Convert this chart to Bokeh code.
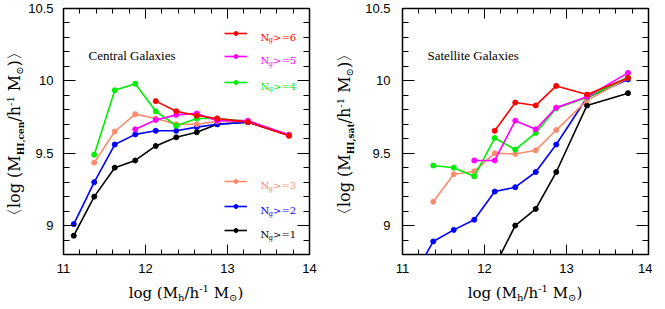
import numpy as np
from bokeh.plotting import figure
from bokeh.models import (FixedTicker, LinearAxis, NumeralTickFormatter, Label,
                          Legend, LegendItem, Range1d, Div)
from bokeh.layouts import row, column
from bokeh.core.properties import value
from bokeh.embed import file_html
from bokeh.resources import INLINE

nan = float("nan")

# ---------------- data ----------------
log_mh = [11.125, 11.375, 11.625, 11.875, 12.125, 12.375, 12.625, 12.875, 13.25, 13.75]

cen_ng1 = [8.93, 9.20, 9.40, 9.45, 9.55, 9.61, 9.645, 9.70, 9.715, 9.625]
cen_ng2 = [9.01, 9.30, 9.56, 9.63, 9.655, 9.655, 9.68, 9.70, 9.715, 9.625]
cen_ng3 = [nan, 9.435, 9.65, 9.77, 9.74, 9.70, 9.70, 9.72, 9.72, 9.63]
cen_ng4 = [nan, 9.49, 9.935, 9.98, 9.79, 9.69, 9.74, 9.74, 9.72, 9.625]
cen_ng5 = [nan, nan, nan, 9.665, 9.73, 9.765, 9.775, 9.725, 9.725, 9.625]
cen_ng6 = [nan, nan, nan, nan, 9.86, 9.79, 9.76, 9.74, 9.715, 9.62]

sat_ng1 = [nan, nan, nan, nan, 8.72, 9.00, 9.115, 9.37, 9.83, 9.915]
sat_ng2 = [8.64, 8.89, 8.97, 9.04, 9.235, 9.265, 9.37, 9.56, 9.885, 10.01]
sat_ng3 = [nan, 9.165, 9.355, 9.375, 9.50, 9.495, 9.52, 9.66, 9.865, 10.02]
sat_ng4 = [nan, 9.415, 9.40, 9.34, 9.605, 9.525, 9.64, 9.81, 9.885, 10.025]
sat_ng5 = [nan, nan, nan, 9.45, 9.45, 9.725, 9.665, 9.815, 9.89, 10.055]
sat_ng6 = [nan, nan, nan, nan, 9.655, 9.85, 9.83, 9.965, 9.905, 10.02]

group_names = [">=1", ">=2", ">=3", ">=4", ">=5", ">=6"]
series_colors = ["#000000", "#0000ff", "#fa8c6e", "#00ee00", "#ff00ff", "#ff0000"]

x_major = [11, 12, 13, 14]
x_minor = [11.2, 11.4, 11.6, 11.8, 12.2, 12.4, 12.6, 12.8, 13.2, 13.4, 13.6, 13.8]
y_major = [9.0, 9.5, 10.0, 10.5]
y_minor = [8.8, 8.9, 9.1, 9.2, 9.3, 9.4, 9.6, 9.7, 9.8, 9.9, 10.1, 10.2, 10.3, 10.4]

# ---------------- layout ----------------
FRAME_W, FRAME_H = 246, 246
TOP, BOTTOM = 8, 24
XLAB_H = 23
SERIF = "DejaVu Serif"
TICK_FONT = "Liberation Sans"


def style_axis(ax, major_in, minor_in, ticker, fmt, standoff, labels=True):
    ax.ticker = ticker
    ax.formatter = NumeralTickFormatter(format=fmt)
    ax.axis_line_color = None
    ax.major_tick_in = major_in
    ax.major_tick_out = 0
    ax.minor_tick_in = minor_in
    ax.minor_tick_out = 0
    ax.major_tick_line_color = "black"
    ax.minor_tick_line_color = "black"
    ax.major_tick_line_width = 1
    ax.minor_tick_line_width = 1
    ax.major_label_text_font = TICK_FONT
    ax.major_label_standoff = standoff
    if labels:
        ax.major_label_text_color = "black"
        ax.major_label_text_font_size = "13px"
    else:
        ax.major_label_text_color = None
        ax.major_label_text_font_size = "1px"
    ax.axis_label = None


def make_panel(series, title, b_left, b_right, y_standoff, legend):
    p = figure(width=b_left + FRAME_W + b_right, height=TOP + FRAME_H + BOTTOM,
               x_range=Range1d(11, 14), y_range=Range1d(8.8, 10.5),
               output_backend="svg", toolbar_location=None,
               min_border_left=b_left, min_border_right=b_right,
               min_border_top=TOP, min_border_bottom=BOTTOM)
    p.grid.visible = False
    p.outline_line_color = "black"
    p.outline_line_width = 1.5
    p.background_fill_color = "white"
    p.border_fill_color = "white"

    style_axis(p.xaxis[0], 10, 5, FixedTicker(ticks=x_major, minor_ticks=x_minor), "0", 9)
    style_axis(p.yaxis[0], 12, 6, FixedTicker(ticks=y_major, minor_ticks=y_minor), "0.[0]", y_standoff)
    top_ax = LinearAxis()
    style_axis(top_ax, 10, 5, FixedTicker(ticks=x_major, minor_ticks=x_minor), "0", 0, labels=False)
    p.add_layout(top_ax, "above")
    right_ax = LinearAxis()
    style_axis(right_ax, 12, 6, FixedTicker(ticks=y_major, minor_ticks=y_minor), "0.[0]", 0, labels=False)
    p.add_layout(right_ax, "right")

    renderers = []
    for ys, c in zip(series, series_colors):
        y = np.array(ys, dtype=float)
        rl = p.line(log_mh, y, line_color=c, line_width=1.6)
        rs = p.scatter(log_mh, y, size=5, color=c)
        renderers.append((rl, rs))

    p.add_layout(Label(x=25, y=199, x_units="screen", y_units="screen", text=title,
                       text_font="Liberation Serif", text_font_size="13px",
                       text_baseline="middle", text_align="left", text_color="black"))

    if legend:
        rows_y = [23.9, 48.0, 72.8, 172.1, 197.9, 221.3]
        for (rl, rs), c, name, ry in zip(renderers, series_colors, group_names, rows_y):
            leg = Legend(items=[LegendItem(label=value(" "), renderers=[rl, rs])],
                         location=(161, ry - 5), padding=0, margin=0, spacing=0,
                         glyph_width=23, glyph_height=10, label_height=10, label_width=1,
                         label_standoff=0, label_text_font_size="1px",
                         label_text_color=None,
                         border_line_color=None, background_fill_color=None,
                         background_fill_alpha=0)
            p.add_layout(leg)
            base = ry - 4
            p.add_layout(Label(x=197, y=base, x_units="screen", y_units="screen", text="N",
                               text_font=SERIF, text_font_size="10px", text_color=c,
                               text_baseline="alphabetic", text_align="left"))
            p.add_layout(Label(x=205, y=base - 3, x_units="screen", y_units="screen", text="g",
                               text_font=SERIF, text_font_size="7px", text_color=c,
                               text_baseline="alphabetic", text_align="left"))
            p.add_layout(Label(x=209.5, y=base, x_units="screen", y_units="screen", text=name,
                               text_font=SERIF, text_font_size="10px", text_color=c,
                               text_baseline="alphabetic", text_align="left"))
    return p


def x_title(b_left, width):
    html = (f'<div style="margin-left:{b_left}px;width:{FRAME_W}px;text-align:center;'
            f'font-family:\'{SERIF}\';font-size:15px;line-height:18px;padding-top:2px;'
            f'white-space:nowrap;color:black;">'
            'log (M<span style="font-size:10px;vertical-align:-3px;">h</span>'
            '/h<span style="font-size:10px;vertical-align:6px;">-1</span>'
            ' M<span style="font-size:10px;vertical-align:-3px;">&#8857;</span>)</div>')
    return Div(text=html, width=width, height=XLAB_H, margin=0)


def y_title(sub_text, width, left_px):
    html = (f'<div style="writing-mode:vertical-rl;text-orientation:sideways;'
            f'transform:rotate(180deg);height:250px;margin-top:9px;margin-left:{left_px}px;'
            f'text-align:center;font-family:\'{SERIF}\';font-size:16px;line-height:20px;'
            f'white-space:nowrap;color:black;">'
            '&#12296;log (M<span style="font-size:9px;font-weight:bold;vertical-align:-4px;">'
            f'{sub_text}</span>'
            '/h<span style="font-size:10px;vertical-align:6px;">-1</span>'
            ' M<span style="font-size:10px;vertical-align:-3px;">&#8857;</span>)&#12297;</div>')
    return Div(text=html, width=width, height=TOP + FRAME_H + BOTTOM + XLAB_H, margin=0)


cen_series = [cen_ng1, cen_ng2, cen_ng3, cen_ng4, cen_ng5, cen_ng6]
sat_series = [sat_ng1, sat_ng2, sat_ng3, sat_ng4, sat_ng5, sat_ng6]

L1, R1 = 39, 8
L2, R2 = 45, 4
p1 = make_panel(cen_series, "Central Galaxies", L1, R1, 10, True)
p2 = make_panel(sat_series, "Satellite Galaxies", L2, R2, 12, False)

block1 = column(p1, x_title(L1, L1 + FRAME_W + R1), spacing=0)
block2 = column(p2, x_title(L2, L2 + FRAME_W + R2), spacing=0)

layout = row(y_title("HI,cen", 24, 1), block1, y_title("HI,sat", 40, 14), block2, spacing=0)
open("out.html", "w").write(file_html(layout, INLINE))
